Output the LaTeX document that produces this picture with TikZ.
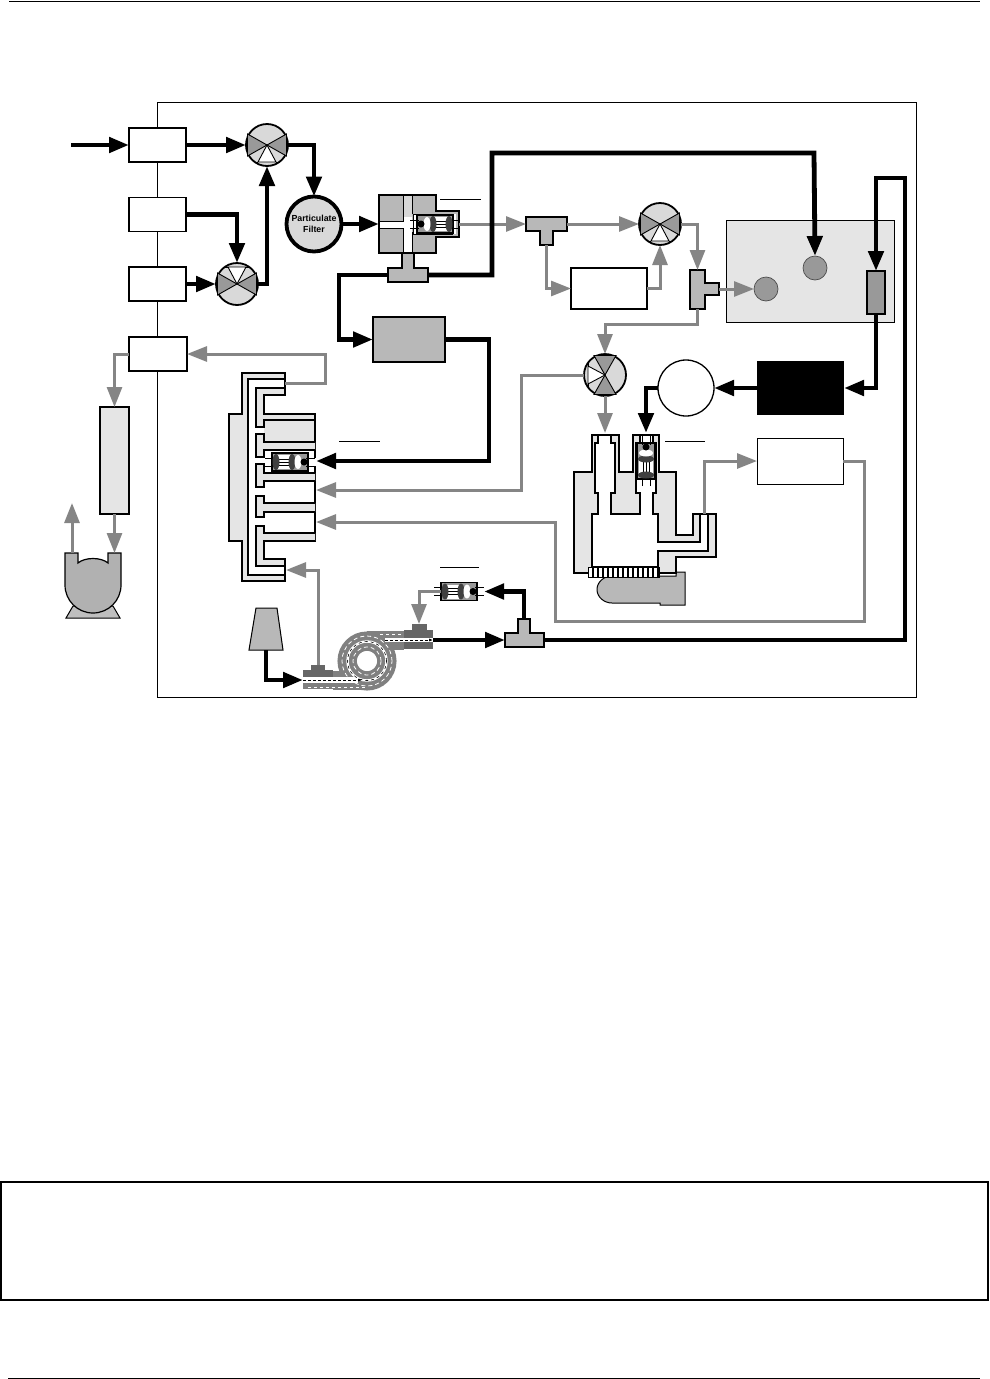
\documentclass[tikz,border=0pt]{standalone}
\usepackage{fontspec}
\setmainfont{Liberation Sans}
\usetikzlibrary{arrows.meta}
\definecolor{gasgray}{HTML}{858585}
\definecolor{shell}{HTML}{E5E5E5}
\definecolor{valvegray}{HTML}{D9D9D9}
\definecolor{metal}{HTML}{B8B8B8}
\definecolor{core}{HTML}{999999}
\definecolor{coilgray}{HTML}{808080}
\tikzset{
  pipe/.style={-{Triangle[length=20pt, width=15pt]}, line width=4.8pt, draw=black, line join=miter},
  gaspipe/.style={-{Triangle[length=20pt, width=15pt]}, line width=3pt, draw=gasgray, line join=miter},
  port/.style={rectangle, draw=black, line width=1.2pt, fill=white, inner sep=0pt, outer sep=0pt,
               minimum width=57pt, minimum height=34pt},
  unitbox/.style={rectangle, draw=black, line width=1.8pt, fill=white, inner sep=0pt, outer sep=0pt},
  valvebody/.style={circle, draw=black, line width=1.8pt, fill=valvegray, inner sep=0pt, outer sep=0pt,
                    minimum size=42pt},
  sensor/.style={circle, draw=black!70, line width=0.7pt, fill=core, inner sep=0pt, outer sep=0pt,
                 minimum size=24pt},
  orificecase/.style={rectangle, draw=black, line width=1.2pt, fill=core, inner sep=0pt, outer sep=0pt,
                      minimum width=36pt, minimum height=18pt},
  tee/.style={draw=black, line width=1.6pt, fill=metal},
  body/.style={draw=black, line width=1.8pt, fill=shell, line join=miter},
  labelrule/.style={draw=black, line width=0.8pt},
}
\newcommand{\valve}[3]{% name, centre, turn
  \node[valvebody] (#1) at (#2) {};
  \begin{scope}[shift={(#2)}, rotate=#3, line width=0.9pt]
    \draw[fill=white] (0,0) -- (-9,17) -- (9,17) -- cycle;
    \draw (-9,17) -- (-12,17) (9,17) -- (12,17);
    \draw[fill=core] (0,0) -- (-19.5,-11) -- (-19.5,11) -- cycle;
    \draw[fill=core] (0,0) -- (19.5,-11) -- (19.5,11) -- cycle;
  \end{scope}}
\newcommand{\orifice}[3]{% name, centre, turn
  \node[orificecase, rotate=#3] (#1) at (#2) {};
  \begin{scope}[shift={(#2)}, rotate=#3]
    \draw[line width=0.7pt] (-25,-4) -- (-16,-4) (-25,4) -- (-16,4) (16,-4) -- (25,-4) (16,4) -- (25,4);
    \fill[white] (-12,-7) rectangle (0,7);
    \draw[line width=0.6pt] (-11,-3) -- (-1,-3) (-11,0) -- (-1,0) (-11,3) -- (-1,3);
    \fill[black!75] (-14,0) ellipse [x radius=3.5pt, y radius=8pt];
    \fill[black!75] (2,0) ellipse [x radius=3.5pt, y radius=8pt];
    \fill[white] (8,0) ellipse [x radius=3.5pt, y radius=7pt];
    \fill[black] (14,0) circle [radius=3.5pt];
  \end{scope}}

\begin{document}
\begin{tikzpicture}[x=1pt, y=-1pt]
  \useasboundingbox (0,0) rectangle (989,1379);
  \draw[line width=1pt] (9,1) -- (980,1);
  \draw[line width=1pt] (8,1378) -- (980,1378);
  \draw[line width=1.3pt] (1,1182) rectangle (988,1300);
  \draw[line width=1pt] (157,102) rectangle (916,697);

  % ports on the chassis
  \node[port] (portA) at (157.5,145) {};
  \node[port] (portB) at (157.5,214.5) {};
  \node[port] (portC) at (157.5,284) {};
  \node[port, minimum width=58pt] (portD) at (158,354) {};

  % scrubber and pump
  \node[unitbox, minimum width=29pt, minimum height=107pt, fill=shell] (scrubber) at (114.5,460.5) {};
  \draw[draw=black, line width=1pt, fill=metal!90] (66,618) -- (73,606) -- (113,606) -- (120,618) -- cycle;
  \draw[draw=black, line width=1.2pt, fill=metal!110!white] (65,553) -- (78,553) -- (78,563)
    .. controls (85,557) and (101,557) .. (108,563) -- (108,553) -- (121,553) -- (121,585)
    .. controls (121,600.5) and (108.5,613) .. (93,613)
    .. controls (77.5,613) and (65,600.5) .. (65,585) -- cycle;
  \coordinate (pumpout) at (72,553);
  \coordinate (pumpin) at (114.5,553);
  \coordinate (exhaust) at (72,503);

  % valves and filter
  \valve{valveA}{267,145}{0}
  \valve{valveB}{237,284}{180}
  \valve{valveC}{660,224}{0}
  \valve{valveD}{605,375}{-90}
  \node[circle, draw=black, line width=3.8pt, fill=valvegray, minimum size=55pt, inner sep=0pt, outer sep=0pt,
        align=center, font=\fontsize{8.8}{10.5}\selectfont\bfseries] (filter) at (314,224) {Particulate\\Filter};

  % reaction cell block
  \draw[body] (379,195) -- (436,195) -- (436,211) -- (459,211) -- (459,237) -- (436,237) -- (436,253) -- (379,253) -- cycle;
  \fill[metal] (380,196) rectangle (435,252);
  \fill[metal] (435,212) rectangle (458,236);
  \fill[white] (380,221) rectangle (418,228);
  \fill[white] (403,217) rectangle (412,252);
  \fill[shell!70!metal] (403,196) rectangle (412,217);
  \draw[line width=1pt] (380,221) -- (403,221) -- (403,196) (412,196) -- (412,214) (380,228) -- (403,228) -- (403,252) (412,232) -- (412,252);
  \fill[white] (413,214) rectangle (456,234);
  \draw[line width=1pt] (413,214) rectangle (452,234);
  \orifice{orificeA}{435,224}{180}
  \coordinate (blockout) at (459,224);
  \coordinate (blockin) at (379,224);
  \draw[labelrule] (440,199) -- (481,199);

  \draw[tee] (402,253) -- (414,253) -- (414,268) -- (428,268) -- (428,282) -- (388,282) -- (388,268) -- (402,268) -- cycle;
  \coordinate (teeAwest) at (388,275);
  \coordinate (teeAeast) at (428,275);

  \node[unitbox, fill=metal, minimum width=72pt, minimum height=45pt] (dryer) at (409,339.5) {};
  \node[unitbox, line width=1.4pt, minimum width=76pt, minimum height=41pt] (flowbox) at (609,288.5) {};
  \draw[tee] (526,217) -- (567,217) -- (567,231) -- (553,231) -- (553,245) -- (540,245) -- (540,231) -- (526,231) -- cycle;
  \coordinate (teeBwest) at (526,224);
  \coordinate (teeBeast) at (567,224);
  \coordinate (teeBsouth) at (546.5,245);
  \draw[tee] (690,270) -- (705,270) -- (705,283) -- (719,283) -- (719,295) -- (705,295) -- (705,309) -- (690,309) -- cycle;
  \coordinate (teeCnorth) at (697.5,270);
  \coordinate (teeCeast) at (719,289);
  \coordinate (teeCsouth) at (697.5,309);

  % absorption bench
  \node[rectangle, draw=black, line width=1pt, fill=shell, minimum width=168pt, minimum height=102pt,
        inner sep=0pt, outer sep=0pt] (bench) at (810,271) {};
  \node[sensor] (sensorA) at (815,268) {};
  \node[sensor] (sensorB) at (766,289) {};
  \node[unitbox, line width=1.2pt, fill=core, minimum width=18pt, minimum height=43pt] (lamp) at (876,292.5) {};

  \node[rectangle, fill=black, minimum width=87pt, minimum height=54pt, inner sep=0pt, outer sep=0pt] (oven) at (800.5,388) {};
  \node[circle, draw=black, line width=1.3pt, fill=white, minimum size=56pt, inner sep=0pt, outer sep=0pt] (scrub) at (686,388) {};
  \node[unitbox, line width=1pt, minimum width=86pt, minimum height=46pt] (sensorbox) at (800,461) {};

  % measure cell
  \draw[draw=black, line width=1pt, fill=metal] (612,576) -- (676,576) -- (676,572) -- (685,572) -- (685,605) -- (660,605) -- (660,603) -- (612,603)
    .. controls (604,603) and (597,597) .. (597,589.5) .. controls (597,582) and (604,576) .. (612,576) -- cycle;
  \draw[body, line width=1.4pt] (574,472) -- (592,472) -- (592,435) -- (619,435) -- (619,472) -- (633,472) -- (633,435) -- (659,435) -- (659,472) -- (676,472) -- (676,535) -- (693,535) -- (693,514) -- (716,514) -- (716,557) -- (676,557) -- (676,573) -- (574,573) -- cycle;
  \draw[draw=black, line width=1.2pt, fill=white] (598,435) -- (598,443) -- (595,443) -- (595,493) -- (598,493) -- (598,514) -- (592,514) -- (592,567) -- (658,567) -- (658,551) -- (708,551) -- (708,514) -- (700,514) -- (700,542) -- (658,542) -- (658,514) -- (653,514) -- (653,493) -- (656,493) -- (656,443) -- (653,443) -- (653,435) -- (640,435) -- (640,443) -- (636,443) -- (636,493) -- (640,493) -- (640,514) -- (611,514) -- (611,493) -- (615,493) -- (615,443) -- (611,443) -- (611,435) -- cycle;
  \draw[draw=black, line width=1pt, fill=white] (588,567) rectangle (659,577);
  \foreach \x in {592,597,...,657}
    \fill (\x,567) rectangle (\x+1.6,577);
  \orifice{orificeD}{646,461}{90}
  \coordinate (cellwest) at (605,433);
  \coordinate (celleast) at (646,433);
  \coordinate (cellout) at (704,514);
  \draw[labelrule] (665,441) -- (705,441);

  % manifold
  \draw[body] (242,373) -- (285,373) -- (285,395) -- (263,395) -- (263,414) -- (315,414) -- (315,541) -- (263,541) -- (263,560) -- (285,560) -- (285,581) -- (242,581) -- (242,541) -- (229,541) -- (229,414) -- (242,414) -- cycle;
  \fill[white] (248,379) rectangle (284,388);
  \fill[white] (248,379) rectangle (256,575);
  \fill[white] (248,566) rectangle (284,575);
  \fill[white] (256,414) rectangle (314,541);
  \fill[shell] (264,420) rectangle (314,442);
  \draw[line width=1.6pt] (285,379) -- (248,379) -- (248,575) -- (285,575);
  \draw[body] (285,388) -- (256,388) -- (256,427) -- (264,427) -- (264,420) -- (315,420) -- (315,414) -- (264,414) -- (264,395) -- (285,395) -- cycle;
  \draw[body] (315,442) -- (264,442) -- (264,434) -- (256,434) -- (256,457) -- (264,457) -- (264,450) -- (315,450);
  \draw[body] (315,473) -- (264,473) -- (264,464) -- (256,464) -- (256,487) -- (264,487) -- (264,481) -- (315,481);
  \draw[body] (315,503) -- (264,503) -- (264,496) -- (256,496) -- (256,517) -- (264,517) -- (264,512) -- (315,512);
  \draw[body] (315,533) -- (264,533) -- (264,526) -- (256,526) -- (256,566) -- (285,566) -- (285,559) -- (264,559) -- (264,541) -- (315,541);
  \fill[white] (314,458) rectangle (316,466);
  \orifice{orificeB}{290,462}{0}
  \coordinate (manifoldtop) at (285,383);
  \coordinate (manifoldbottom) at (286,570);
  \coordinate (manifoldorifice) at (316,461);
  \coordinate (manifoldA) at (316,490);
  \coordinate (manifoldB) at (316,522);
  \draw[labelrule] (339,441) -- (380,441);

  % delay loop
  \draw[line width=19.5pt, coilgray] (367,661) circle [radius=19.75pt];
  \fill[coilgray] (333,671) rectangle (367,690);
  \fill[coilgray] (367,631) rectangle (404,650);
  \fill[black!60] (311,665) rectangle (325,672);
  \fill[black!60] (303,670) rectangle (333,677);
  \fill[coilgray] (303,683) rectangle (333,689);
  \fill[black!60] (412,624) rectangle (427,632);
  \fill[black!60] (404,630) rectangle (433,638);
  \fill[black!60] (404,642) rectangle (433,649);
  \fill[white] (303,677) rectangle (358,683);
  \fill[white] (385,638) rectangle (433,642);
  \draw[white, line width=2.4pt] (367,661) circle [radius=19.5pt];
  \draw[white, line width=0.8pt, dash pattern=on 4pt off 3pt] (367,661) circle [radius=25pt];
  \draw[white, line width=0.8pt, dash pattern=on 4pt off 3pt] (367,661) circle [radius=14pt];
  \fill[white] (367,661) circle [radius=10pt];
  \draw[black, line width=0.6pt, dash pattern=on 3pt off 3pt] (367,661) circle [radius=19.5pt];
  \draw[-{Latex[length=4pt]}, line width=0.7pt, dash pattern=on 3pt off 2pt] (303,680) -- (362,680);
  \draw[-{Latex[length=4pt]}, line width=0.7pt, dash pattern=on 3pt off 2pt] (385,640) -- (433,640);
  \draw[white, line width=0.8pt, dash pattern=on 3pt off 3pt] (308,687) -- (365,687);
  \draw[white, line width=0.8pt, dash pattern=on 3pt off 3pt] (380,634) -- (402,634);
  \coordinate (loopin) at (303,680);
  \coordinate (looptap) at (318,665);
  \coordinate (loopout) at (433,640);
  \coordinate (looptop) at (419,624);

  \draw[draw=black, line width=1pt, fill=metal] (256,608) -- (277,608) -- (283,650) -- (249,650) -- cycle;
  \coordinate (capillary) at (266,650);

  \draw[tee] (518,619) -- (530,619) -- (530,633) -- (544,633) -- (544,647) -- (505,647) -- (505,633) -- (518,633) -- cycle;
  \coordinate (teeDwest) at (505,640);
  \coordinate (teeDeast) at (544,640);
  \coordinate (teeDnorth) at (524,619);
  \orifice{orificeC}{459,591.5}{0}
  \coordinate (orificeCin) at (484,591.5);
  \draw[labelrule] (440,567) -- (479,567);

  % gas lines
  \draw[gaspipe] (blockout) -- (teeBwest);
  \draw[gaspipe] (teeBeast) -- (valveC.west);
  \draw[gaspipe] (teeBsouth) |- (flowbox.west);
  \draw[gaspipe] (flowbox.east) -| (valveC.south);
  \draw[gaspipe] (valveC.east) -| (teeCnorth);
  \draw[gaspipe] (teeCeast) -- (sensorB.west);
  \draw[gaspipe] (teeCsouth) -- ++(0,15) -| (valveD.north);
  \draw[gaspipe] (valveD.south) -- (cellwest);
  \draw[gaspipe] (valveD.west) -- ++(-63,0) |- (manifoldA);
  \draw[gaspipe] (cellout) |- (sensorbox.west);
  \draw[gaspipe] (sensorbox.east) -- ++(21,0) |- ++(-309,160) |- (manifoldB);
  \draw[gaspipe] (manifoldtop) -- ++(40,0) |- (portD.east);
  \draw[gaspipe] (looptap) |- (manifoldbottom);
  \draw[gaspipe] (portD.west) -| (scrubber.north);
  \draw[gaspipe] (scrubber.south) -- (pumpin);
  \draw[gaspipe] (pumpout) -- (exhaust);
  \draw[gaspipe] (orificeC.west) -| (looptop);

  % sample lines
  \coordinate (inlet) at (71,145);
  \draw[pipe] (inlet) -- (portA.west);
  \draw[pipe] (portA.east) -- (valveA.west);
  \draw[pipe] (valveA.east) -| (filter.north);
  \draw[pipe] (filter.east) -- (blockin);
  \draw[pipe] (portB.east) -| (valveB.north);
  \draw[pipe] (portC.east) -- (valveB.west);
  \draw[pipe] (valveB.east) -| (valveA.south);
  \draw[pipe] (teeAwest) -- ++(-49,0) |- (dryer.west);
  \draw[pipe] (dryer.east) -- ++(44,0) |- (manifoldorifice);
  \draw[pipe] (teeAeast) -- ++(64,0) |- ++(322,-122) -- (sensorA.north);
  \draw[pipe] (teeDeast) -- ++(361,0) |- ++(-29,-462) -- (lamp.north);
  \draw[pipe] (lamp.south) |- (oven.east);
  \draw[pipe] (oven.west) -- (scrub.east);
  \draw[pipe] (scrub.west) -| (celleast);
  \draw[pipe] (capillary) |- (loopin);
  \draw[pipe] (loopout) -- (teeDwest);
  \draw[pipe] (teeDnorth) |- (orificeCin);
\end{tikzpicture}
\end{document}
